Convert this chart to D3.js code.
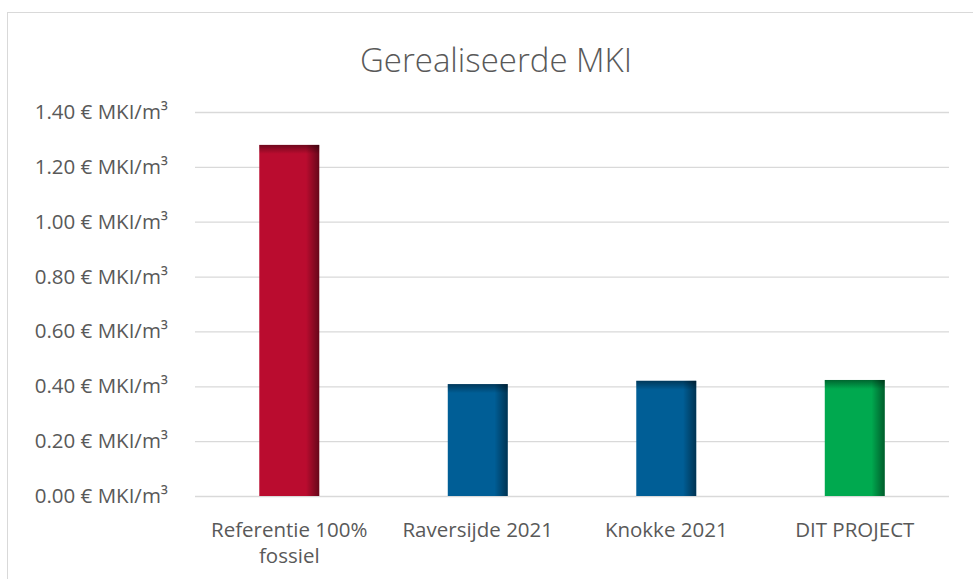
<!DOCTYPE html>
<html>
<head>
<meta charset="utf-8">
<script src="https://cdn.jsdelivr.net/npm/d3@7"></script>
<style>
  body { margin: 0; background: #fff; }
  text { font-family: "Open Sans", "Noto Sans", sans-serif; fill: #595959; }
</style>
</head>
<body>
<div id="chart"></div>
<script>
const categories = ["Referentie 100%\nfossiel", "Raversijde 2021", "Knokke 2021", "DIT PROJECT"];
const values = [1.28, 0.408, 0.42, 0.423];
const barColors = ["#ba0c2f", "#005e96", "#005e96", "#00a94f"];
const yTicks = [0, 0.2, 0.4, 0.6, 0.8, 1.0, 1.2, 1.4];
const title = "Gerealiseerde MKI";

const width = 973;
const height = 579;
const margin = { top: 112, right: 24, bottom: 83, left: 195 };

const svg = d3
  .select("#chart")
  .append("svg")
  .attr("width", width)
  .attr("height", height);

// gradients for the shaded bar edges
const defs = svg.append("defs");
const sideGrad = defs.append("linearGradient").attr("id", "side").attr("x1", 0).attr("x2", 1).attr("y1", 0).attr("y2", 0);
sideGrad.append("stop").attr("offset", "0.78").attr("stop-color", "#000").attr("stop-opacity", 0);
sideGrad.append("stop").attr("offset", "1").attr("stop-color", "#000").attr("stop-opacity", 0.45);
const topGrad = defs.append("linearGradient").attr("id", "topgrad").attr("x1", 0).attr("x2", 0).attr("y1", 0).attr("y2", 1);
topGrad.append("stop").attr("offset", "0").attr("stop-color", "#000").attr("stop-opacity", 0.4);
topGrad.append("stop").attr("offset", "1").attr("stop-color", "#000").attr("stop-opacity", 0);

// chart border
svg
  .append("rect")
  .attr("x", 7.5)
  .attr("y", 12.5)
  .attr("width", 1000)
  .attr("height", 700)
  .attr("fill", "none")
  .attr("stroke", "#d9d9d9");

svg
  .append("text")
  .attr("x", 496)
  .attr("y", 72)
  .attr("text-anchor", "middle")
  .style("font-size", "33px")
  .style("font-weight", 300)
  .text(title);

// Scales
const xScale = d3
  .scaleBand()
  .domain(categories)
  .range([margin.left, width - margin.right])
  .paddingInner(0.682)
  .paddingOuter(0.341);

const yScale = d3
  .scaleLinear()
  .domain([0, 1.4])
  .range([height - margin.bottom, margin.top]);

// Grid + y labels
const yAxis = d3
  .axisLeft(yScale)
  .tickValues(yTicks)
  .tickSize(-(width - margin.left - margin.right))
  .tickPadding(27)
  .tickFormat((d) => d3.format(".2f")(d) + " € MKI/m³");

const gy = svg
  .append("g")
  .attr("transform", `translate(${margin.left}, 0)`)
  .call(yAxis);
gy.select(".domain").remove();
gy.selectAll(".tick line").attr("stroke", "#d9d9d9").attr("stroke-width", 1.3);
gy.selectAll(".tick text").style("font-size", "20.5px").attr("fill", "#595959");

// x labels
const xAxis = d3.axisBottom(xScale).tickSize(0).tickPadding(0);
const gx = svg
  .append("g")
  .attr("transform", `translate(0, ${height - margin.bottom})`)
  .call(xAxis);
gx.select(".domain").remove();
gx.selectAll(".tick text")
  .style("font-size", "20.5px")
  .attr("fill", "#595959")
  .attr("y", 0)
  .attr("dy", null)
  .text(null)
  .each(function (d) {
    const t = d3.select(this);
    d.split("\n").forEach((line, i) => {
      t.append("tspan").attr("x", 0).attr("y", 41 + i * 26).text(line);
    });
  });

// Bars
const bars = svg
  .selectAll(".bar")
  .data(categories)
  .enter()
  .append("g")
  .attr("class", "bar");

bars
  .append("rect")
  .attr("x", (d) => xScale(d))
  .attr("y", (d, i) => yScale(values[i]))
  .attr("width", xScale.bandwidth())
  .attr("height", (d, i) => yScale(0) - yScale(values[i]))
  .attr("fill", (d, i) => barColors[i]);

bars
  .append("rect")
  .attr("x", (d) => xScale(d))
  .attr("y", (d, i) => yScale(values[i]))
  .attr("width", xScale.bandwidth())
  .attr("height", (d, i) => yScale(0) - yScale(values[i]))
  .attr("fill", "url(#side)");

bars
  .append("rect")
  .attr("x", (d) => xScale(d))
  .attr("y", (d, i) => yScale(values[i]))
  .attr("width", xScale.bandwidth())
  .attr("height", 9)
  .attr("fill", "url(#topgrad)");
</script>
</body>
</html>
